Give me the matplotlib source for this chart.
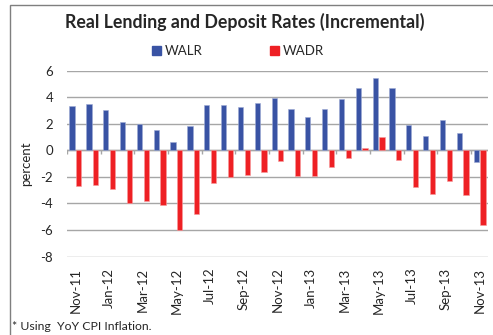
import matplotlib
matplotlib.use("Agg")
import matplotlib.pyplot as plt
import matplotlib.patches as mpatches
import numpy as np

plt.rcParams['font.family'] = ['Lato', 'DejaVu Sans']

months = ["Nov-11", "Dec-11", "Jan-12", "Feb-12", "Mar-12", "Apr-12", "May-12",
          "Jun-12", "Jul-12", "Aug-12", "Sep-12", "Oct-12", "Nov-12", "Dec-12",
          "Jan-13", "Feb-13", "Mar-13", "Apr-13", "May-13", "Jun-13", "Jul-13",
          "Aug-13", "Sep-13", "Oct-13", "Nov-13"]
walr = [3.35, 3.45, 3.05, 2.1, 2.0, 1.55, 0.65, 1.8, 3.4, 3.42, 3.22, 3.58,
        3.95, 3.1, 2.5, 3.1, 3.83, 4.65, 5.45, 4.65, 1.9, 1.1, 2.3, 1.28, -0.9]
wadr = [-2.68, -2.65, -2.95, -3.98, -3.8, -4.1, -6.0, -4.78, -2.48, -2.05,
        -1.88, -1.65, -0.83, -1.93, -1.95, -1.3, -0.55, 0.15, 1.03, -0.75,
        -2.8, -3.28, -2.3, -3.35, -5.65]
yticks = [6, 4, 2, 0, -2, -4, -6, -8]

blue = "#3953A4"
red = "#EE2024"
grid = "#A6A6A6"
ink = "#262626"

W, H = 493, 335
fig = plt.figure(figsize=(W / 100, H / 100), dpi=100)
ax = fig.add_axes([67 / W, 1 - 256.5 / H, 421 / W, (256.5 - 70.5) / H])

x = np.arange(len(months))
ax.bar(x - 0.2, walr, width=0.31, color=blue, edgecolor="#9DAAD3", linewidth=0.4, zorder=3)
ax.bar(x + 0.2, wadr, width=0.31, color=red, edgecolor="#F69A9C", linewidth=0.4, zorder=3)

ax.set_xlim(-0.5, len(months) - 0.5)
ax.set_ylim(min(yticks), max(yticks))
ax.set_yticks(yticks)
ax.set_yticklabels([str(v) for v in yticks], fontsize=9.5, color=ink)
ax.yaxis.grid(True, color=grid, linewidth=1.0, zorder=0)
ax.tick_params(axis="y", length=0, pad=10)

# category labels every second month, drawn at the bottom of the plot
ax.set_xticks(x[::2])
ax.set_xticklabels(months[::2], rotation=90, fontsize=9.5, color=ink)
ax.tick_params(axis="x", length=0, pad=8)

for s in ax.spines.values():
    s.set_visible(False)

# zero line with small tick marks at every other category boundary
ax.axhline(0, color=grid, linewidth=1.0, zorder=2)
ax.vlines(np.arange(-0.5, len(months), 2), -0.27, 0, color=grid, linewidth=1.0, zorder=2)

ax.set_ylabel("percent", fontsize=9.5, color=ink, labelpad=6)

fig.text(245 / W, 1 - 22 / H, "Real Lending and Deposit Rates (Incremental)",
         ha="center", va="center", fontsize=12.8, fontweight="bold", color=ink)

handles = [mpatches.Patch(color=blue, label="WALR"), mpatches.Patch(color=red, label="WADR")]
fig.legend(handles=handles, loc="center", bbox_to_anchor=(238 / W, 1 - 51 / H), ncol=2,
           frameon=False, fontsize=9.5, handlelength=0.7, handleheight=0.7,
           handletextpad=0.3, columnspacing=5.1, labelcolor=ink)

fig.text(12 / W, 1 - 326 / H, "* Using  YoY CPI Inflation.", ha="left", va="center",
         fontsize=8.8, color=ink)

# outer chart frame
fig.patches.append(mpatches.Rectangle((10 / W, -0.1), 1.2, 1 - 5 / H + 0.1,
                                      transform=fig.transFigure, fill=False,
                                      edgecolor="#7F7F7F", linewidth=1.0))

fig.savefig("out.png", dpi=100)
